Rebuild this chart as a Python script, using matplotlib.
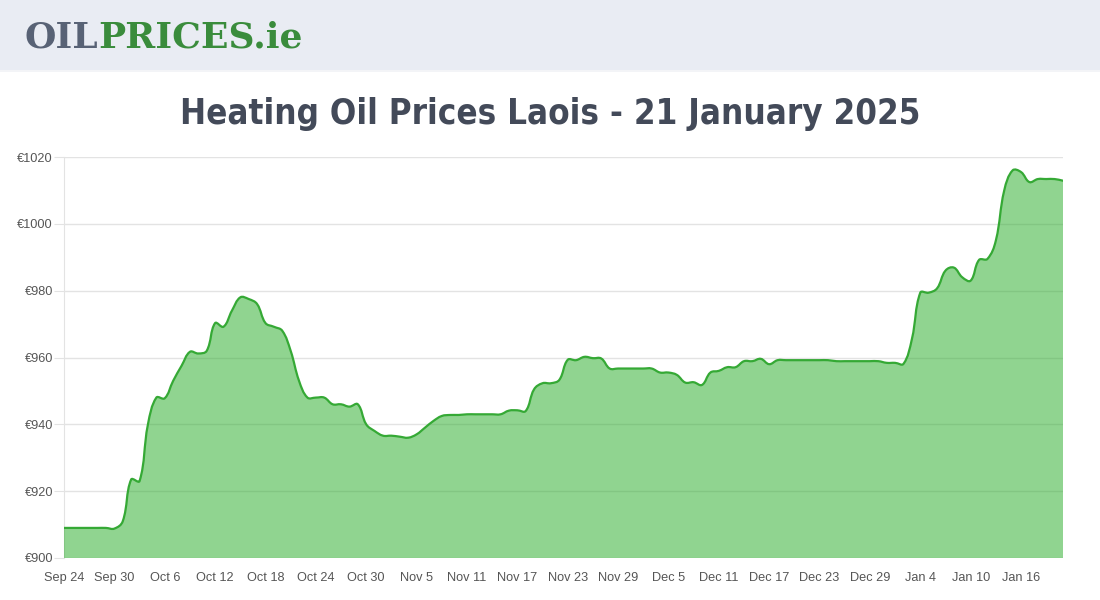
import matplotlib
matplotlib.use("Agg")
import matplotlib.pyplot as plt
import numpy as np
import pandas as pd
from matplotlib.path import Path
from matplotlib.patches import PathPatch, Rectangle

# daily heating oil prices, Laois, 24 Sep 2024 -> 21 Jan 2025
dates = pd.date_range("2024-09-24", "2025-01-21", freq="D")
prices = [
    909.0, 909.0, 909.0, 909.0, 909.0, 909.0, 908.8, 911.0, 923.5, 923.0,
    940.0, 948.0, 947.8, 953.0, 957.5, 961.7, 961.2, 962.0, 970.3, 969.2,
    974.0, 978.0, 977.5, 976.0, 970.3, 969.2, 968.0, 962.0, 953.0, 948.0,
    948.0, 948.0, 946.0, 946.0, 945.3, 946.0, 940.0, 938.0, 936.6, 936.6,
    936.3, 936.0, 937.0, 939.0, 941.0, 942.5, 942.8, 942.8, 943.0, 943.0,
    943.0, 943.0, 943.0, 944.1, 944.2, 944.0, 950.5, 952.3, 952.3, 953.3,
    959.3, 959.2, 960.2, 959.8, 959.7, 956.7, 956.7, 956.7, 956.7, 956.7,
    956.7, 955.5, 955.5, 954.8, 952.5, 952.6, 951.8, 955.5, 956.0, 957.1,
    957.1, 958.9, 958.9, 959.6, 958.0, 959.2, 959.2, 959.2, 959.2, 959.2,
    959.2, 959.2, 958.9, 958.9, 958.9, 958.9, 958.9, 958.9, 958.4, 958.4,
    958.1, 965.5, 979.4, 979.4, 980.7, 986.0, 986.9, 984.0, 983.0, 989.2,
    989.5, 995.0, 1010.0, 1016.0, 1015.5, 1012.5, 1013.4, 1013.4, 1013.4, 1012.9,
]
labels = [d.strftime("%b ") + str(d.day) for d in dates]
y_ticks = [900, 920, 940, 960, 980, 1000, 1020]
title = "Heating Oil Prices Laois - 21 January 2025"

LINE = "#35a935"
FILL = (0.17, 0.68, 0.17, 0.52)
GRID = "#e3e3e3"
TEXT = "#555555"


def spline_path(ax, xs, ys, tension=0.4):
    # chart.js style bezier spline, computed in pixel space
    pts = ax.transData.transform(np.column_stack([xs, ys]))
    n = len(pts)
    cp_prev, cp_next = [], []
    for i in range(n):
        p0, p1, p2 = pts[max(i - 1, 0)], pts[i], pts[min(i + 1, n - 1)]
        d01 = np.hypot(*(p1 - p0))
        d12 = np.hypot(*(p2 - p1))
        tot = d01 + d12
        s01 = d01 / tot if tot else 0
        s12 = d12 / tot if tot else 0
        cp_prev.append(p1 - tension * s01 * (p2 - p0))
        cp_next.append(p1 + tension * s12 * (p2 - p0))
    verts = [pts[0]]
    codes = [Path.MOVETO]
    for i in range(1, n):
        verts += [cp_next[i - 1], cp_prev[i], pts[i]]
        codes += [Path.CURVE4] * 3
    verts = ax.transData.inverted().transform(np.array(verts))
    return verts, codes


fig = plt.figure(figsize=(11, 6), dpi=100)
fig.patch.set_facecolor("white")

# header band + logo
fig.patches.append(Rectangle((0, 1 - 72 / 600), 1, 3 / 600, transform=fig.transFigure,
                             facecolor="#f3f4f7", edgecolor="none", zorder=0))
fig.patches.append(Rectangle((0, 1 - 70 / 600), 1, 70 / 600, transform=fig.transFigure,
                             facecolor="#e9ecf3", edgecolor="none", zorder=1))
logo = fig.text(25 / 1100, 1 - 38 / 600, "OIL", fontsize=26, fontweight="heavy",
                family="DejaVu Serif", color="#586275", va="center", ha="left")
fig.canvas.draw()
bb = logo.get_window_extent()
fig.text(bb.x1 / 1100, 1 - 38 / 600, "PRICES.ie", fontsize=26, fontweight="heavy",
         family="DejaVu Serif", color="#3a8c3c", va="center", ha="left")

fig.text(550 / 1100, 1 - 114 / 600, title, fontsize=25, fontweight="bold",
         family="DejaVu Sans", stretch="condensed", color="#434a59",
         ha="center", va="center")

ax = fig.add_axes([64 / 1100, 1 - 558 / 600, 999 / 1100, 401 / 600])
x = np.arange(len(prices))
ax.set_xlim(0, len(prices) - 1)
ax.set_ylim(900, 1020)

verts, codes = spline_path(ax, x, prices)
line_path = Path(verts, codes)
fill_verts = np.vstack([verts, [[x[-1], 900], [x[0], 900], [x[0], prices[0]]]])
fill_codes = codes + [Path.LINETO, Path.LINETO, Path.CLOSEPOLY]
ax.add_patch(PathPatch(Path(fill_verts, fill_codes), facecolor=FILL,
                       edgecolor="none", zorder=3))
ax.add_patch(PathPatch(line_path, facecolor="none", edgecolor=LINE,
                       linewidth=1.6, zorder=4, capstyle="round", joinstyle="round"))

ax.set_yticks(y_ticks)
ax.set_yticklabels(["€" + str(v) for v in y_ticks])
ax.set_xticks(x[::6])
ax.set_xticklabels(labels[::6])
ax.grid(axis="y", color=GRID, linewidth=1, zorder=1)
ax.set_axisbelow(True)
ax.tick_params(axis="y", length=7, color=GRID, pad=1, labelsize=9.2, labelcolor=TEXT)
ax.tick_params(axis="x", length=0, pad=10, labelsize=9.2, labelcolor=TEXT)
for lab in ax.get_xticklabels() + ax.get_yticklabels():
    lab.set_family("Liberation Sans")

for side in ["top", "right", "bottom"]:
    ax.spines[side].set_visible(False)
ax.spines["left"].set_color(GRID)

fig.savefig("out.png", dpi=100, facecolor="white")
